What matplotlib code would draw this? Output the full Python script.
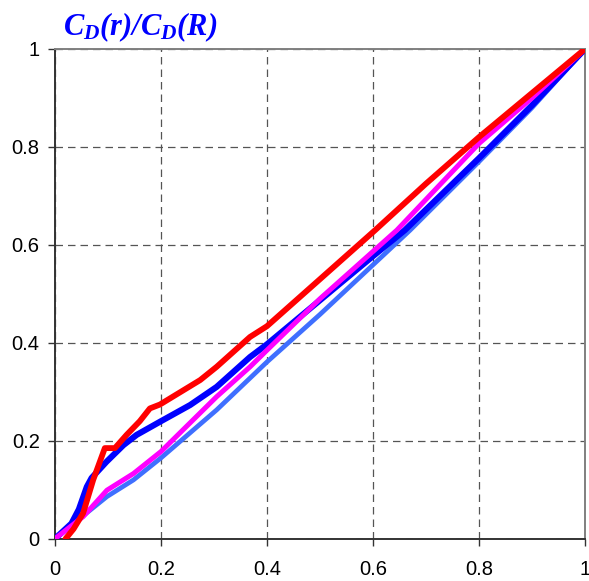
import matplotlib.pyplot as plt

# curve data
red_x = [0.02, 0.035, 0.053, 0.072, 0.094, 0.113, 0.135, 0.16, 0.179, 0.198, 0.274, 0.305, 0.368, 0.4, 0.5, 0.604, 0.7, 0.8, 0.9, 1.0]
red_y = [0.0, 0.02, 0.052, 0.12, 0.185, 0.185, 0.212, 0.24, 0.266, 0.274, 0.324, 0.351, 0.412, 0.434, 0.53, 0.63, 0.725, 0.82, 0.91, 1.0]

blue_x = [0.0, 0.031, 0.045, 0.060, 0.069, 0.097, 0.129, 0.154, 0.2, 0.255, 0.305, 0.368, 0.4, 0.5, 0.6, 0.66, 0.8, 0.9, 1.0]
blue_y = [0.0, 0.031, 0.06, 0.106, 0.124, 0.157, 0.191, 0.212, 0.24, 0.273, 0.31, 0.371, 0.397, 0.487, 0.577, 0.63, 0.777, 0.885, 1.0]

mag_x = [0.0, 0.053, 0.098, 0.148, 0.2, 0.305, 0.368, 0.4, 0.5, 0.645, 0.8, 0.9, 1.0]
mag_y = [0.0, 0.045, 0.099, 0.133, 0.178, 0.29, 0.351, 0.385, 0.49, 0.63, 0.807, 0.9, 1.0]

lb_x = [0.0, 0.035, 0.098, 0.148, 0.2, 0.305, 0.4, 0.5, 0.67, 0.8, 0.9, 1.0]
lb_y = [0.0, 0.031, 0.086, 0.12, 0.165, 0.263, 0.361, 0.458, 0.63, 0.77, 0.88, 1.0]

ticks = [0, 0.2, 0.4, 0.6, 0.8, 1.0]
tick_labels = ['0', '0.2', '0.4', '0.6', '0.8', '1']

plt.rcParams['mathtext.fontset'] = 'custom'
plt.rcParams['mathtext.bf'] = 'Liberation Serif:italic:bold'
plt.rcParams['mathtext.rm'] = 'Liberation Serif:italic:bold'
plt.rcParams['mathtext.it'] = 'Liberation Serif:italic:bold'

fig = plt.figure(figsize=(5.89, 5.81), dpi=100)
ax = fig.add_axes([0.0934, 0.0728, 0.8998, 0.8429])

ax.plot(lb_x, lb_y, color='#3F6FFF', lw=3.4, solid_capstyle='round', zorder=3)
ax.plot(blue_x, blue_y, color='#0000FF', lw=4.4, solid_capstyle='round', zorder=4)
ax.plot(mag_x, mag_y, color='#FF00FF', lw=3.6, solid_capstyle='round', zorder=5)
ax.plot(red_x, red_y, color='#FF0000', lw=4.2, solid_capstyle='round', zorder=6)

ax.set_xlim(0, 1)
ax.set_ylim(0, 1)
ax.set_xticks(ticks)
ax.set_xticklabels(tick_labels)
ax.set_yticks(ticks)
ax.set_yticklabels(tick_labels)
ax.tick_params(direction='out', length=5, width=1, labelsize=14.5, color='#333333')
ax.tick_params(axis='x', pad=10)
ax.tick_params(axis='y', pad=6)
for lab in ax.get_xticklabels() + ax.get_yticklabels():
    lab.set_family('Liberation Sans')

ax.grid(True, color='#555555', linestyle=(0, (6, 4)), linewidth=0.9)
ax.set_axisbelow(True)

for s in ['left', 'bottom']:
    ax.spines[s].set_color('#333333')
    ax.spines[s].set_linewidth(1.4)
for s in ['top', 'right']:
    ax.spines[s].set_color('#808080')
    ax.spines[s].set_linewidth(1.4)

fig.text(0.107, 0.94, r'$C_D(r)/C_D(R)$', color='#0000FF', fontsize=22)

fig.savefig('out.png', dpi=100)
